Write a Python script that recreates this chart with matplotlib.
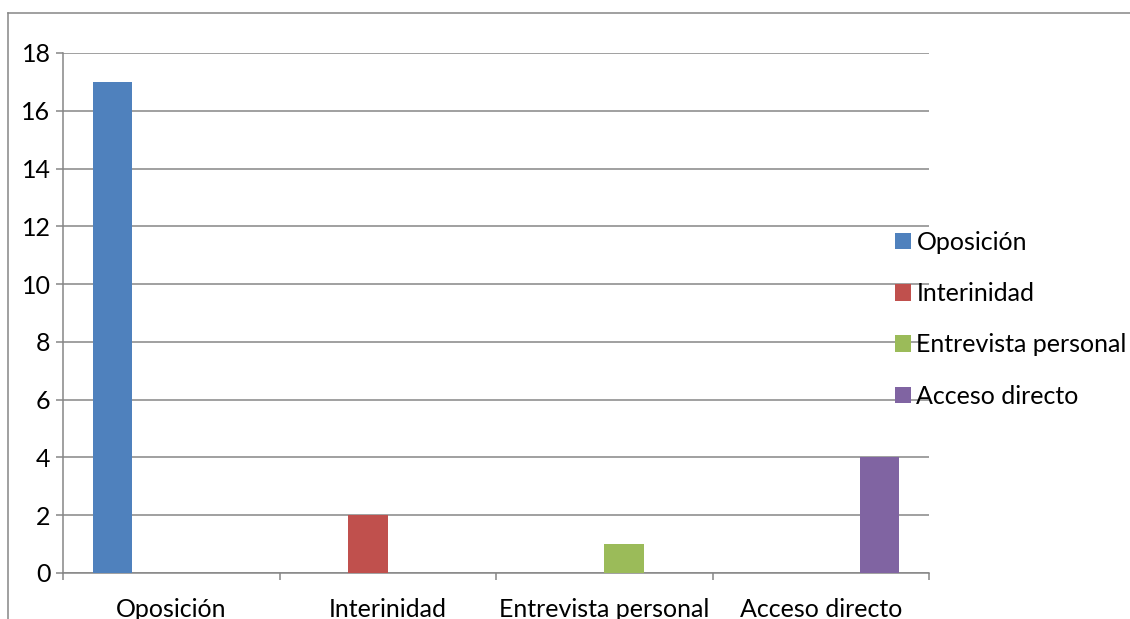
import matplotlib.pyplot as plt
import numpy as np
from matplotlib.lines import Line2D

categories = ["Oposición", "Interinidad", "Entrevista personal", "Acceso directo"]
series_names = ["Oposición", "Interinidad", "Entrevista personal", "Acceso directo"]
oposicion = [17, 0, 0, 0]
interinidad = [0, 2, 0, 0]
entrevista = [0, 0, 1, 0]
acceso = [0, 0, 0, 4]
y_ticks = [0, 2, 4, 6, 8, 10, 12, 14, 16, 18]

colors = ["#4F81BD", "#C0504D", "#9BBB59", "#8064A2"]
grid_color = "#868686"
fs = 18

plt.rcParams["font.family"] = ["Lato", "DejaVu Sans"]

fig = plt.figure(figsize=(11.3, 6.19), dpi=100)
ax = fig.add_axes([63 / 1130, 1 - 573 / 619, (929 - 63) / 1130, (573 - 53) / 619])

n_series = len(series_names)
width = 1 / (n_series + 1.5)
x = np.arange(len(categories))
for i, (name, vals) in enumerate(zip(series_names, [oposicion, interinidad, entrevista, acceso])):
    offset = -0.5 + 0.75 * width + (i + 0.5) * width
    ax.bar(x + offset, vals, width=width, color=colors[i], label=name, zorder=3)

ax.set_xlim(-0.5, len(categories) - 0.5)
ax.set_ylim(0, 18)
ax.set_yticks(y_ticks)
ax.set_yticklabels([str(v) for v in y_ticks], fontsize=fs)
ax.yaxis.grid(True, color=grid_color, linewidth=1.1, zorder=0)
ax.set_axisbelow(True)

ax.set_xticks(np.arange(len(categories) + 1) - 0.5)
ax.set_xticklabels([])
ax.set_xticks(x, minor=True)
ax.set_xticklabels(categories, minor=True, fontsize=fs)
ax.tick_params(axis="x", which="minor", length=0, pad=18)
ax.tick_params(axis="x", which="major", length=5, width=1.1, color=grid_color)
ax.tick_params(axis="y", length=5, width=1.1, color=grid_color, pad=4)

for side in ["top", "right"]:
    ax.spines[side].set_visible(False)
for side in ["left", "bottom"]:
    ax.spines[side].set_color(grid_color)
    ax.spines[side].set_linewidth(1.1)

ax.legend(loc="upper left", bbox_to_anchor=(895 / 1130, 1 - 231 / 619),
          bbox_transform=fig.transFigure, frameon=False, fontsize=fs,
          handlelength=0.64, handleheight=0.64, handletextpad=0.22,
          labelspacing=1.13, borderpad=0, borderaxespad=0)

# outer chart border
fig.add_artist(Line2D([8 / 1130, 1], [1 - 13 / 619, 1 - 13 / 619], color=grid_color, linewidth=1.1))
fig.add_artist(Line2D([8 / 1130, 8 / 1130], [0, 1 - 13 / 619], color=grid_color, linewidth=1.1))

fig.savefig("out.png", dpi=100)
